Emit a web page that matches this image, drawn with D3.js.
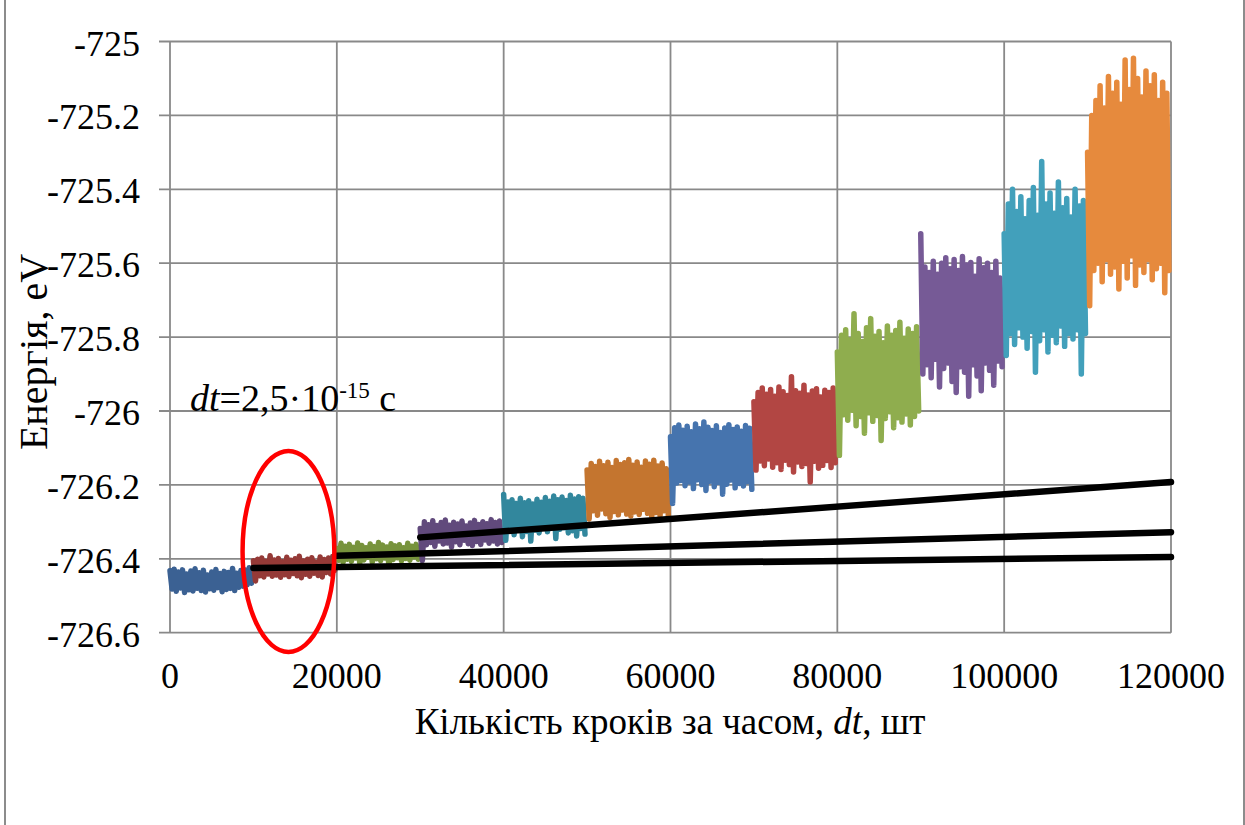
<!DOCTYPE html>
<html>
<head>
<meta charset="utf-8">
<script src="https://cdn.jsdelivr.net/npm/d3@7"></script>
<style>
  body { margin: 0; background: #fff; }
  text { font-family: "Times New Roman", "Liberation Serif", serif; fill: #000; }
</style>
</head>
<body>
<script>
// axis ticks
var xTicks = [0, 20000, 40000, 60000, 80000, 100000, 120000]
var yTicks = [-725, -725.2, -725.4, -725.6, -725.8, -726, -726.2, -726.4, -726.6]

// each run of 10000 steps, read as upper / lower swings
var segStarts = [0, 10000, 20000, 30000, 40000, 50000, 60000, 70000, 80000, 90000, 100000, 110000]

var segHigh = [
  [-726.432,-726.428,-726.436,-726.430,-726.441,-726.433,-726.427,-726.438,-726.431,-726.444,-726.436,-726.429,-726.440,-726.434,-726.437,-726.426,-726.439,-726.432,-726.430,-726.424],
  [-726.405,-726.401,-726.398,-726.407,-726.392,-726.403,-726.399,-726.408,-726.396,-726.404,-726.400,-726.393,-726.406,-726.401,-726.397,-726.409,-726.395,-726.402,-726.398,-726.394],
  [-726.372,-726.358,-726.366,-726.361,-726.369,-726.357,-726.364,-726.370,-726.360,-726.367,-726.356,-726.363,-726.368,-726.359,-726.365,-726.362,-726.370,-726.358,-726.366,-726.361],
  [-726.318,-726.300,-726.308,-726.297,-726.310,-726.302,-726.295,-726.309,-726.301,-726.306,-726.298,-726.311,-726.303,-726.296,-726.307,-726.300,-726.305,-726.294,-726.302,-726.298],
  [-726.226,-726.246,-726.240,-726.250,-726.236,-726.248,-726.243,-726.252,-726.239,-726.247,-726.234,-726.244,-726.230,-726.240,-726.233,-726.242,-726.228,-726.238,-726.232,-726.236],
  [-726.160,-726.142,-726.150,-726.136,-726.148,-726.139,-726.153,-726.134,-726.145,-726.140,-726.131,-726.147,-726.138,-726.152,-726.135,-726.144,-726.133,-726.149,-726.141,-726.156],
  [-726.070,-726.045,-726.038,-726.052,-726.041,-726.056,-726.035,-726.048,-726.030,-726.044,-726.053,-726.040,-726.058,-726.046,-726.037,-726.050,-726.043,-726.055,-726.039,-726.047],
  [-725.975,-725.950,-725.938,-725.955,-725.942,-725.960,-725.935,-725.948,-725.958,-725.907,-725.945,-725.952,-725.930,-725.957,-725.946,-725.940,-725.962,-725.944,-725.950,-725.938],
  [-725.840,-725.795,-725.780,-725.808,-725.737,-725.790,-725.812,-725.775,-725.750,-725.798,-725.785,-725.815,-725.770,-725.795,-725.782,-725.760,-725.803,-725.778,-725.790,-725.772],
  [-725.520,-725.610,-725.625,-725.595,-725.630,-725.600,-725.585,-725.615,-725.590,-725.620,-725.582,-725.605,-725.598,-725.635,-725.588,-725.612,-725.600,-725.625,-725.595,-725.640],
  [-725.520,-725.440,-725.400,-725.460,-725.420,-725.480,-725.430,-725.395,-725.470,-725.325,-725.440,-725.410,-725.465,-725.380,-725.450,-725.425,-725.475,-725.400,-725.445,-725.430],
  [-725.300,-725.200,-725.160,-725.120,-725.180,-725.095,-725.140,-725.110,-725.170,-725.050,-725.130,-725.045,-725.100,-725.150,-725.080,-725.120,-725.090,-725.160,-725.110,-725.140]
]

var segLow = [
  [-726.482,-726.488,-726.479,-726.491,-726.484,-726.487,-726.480,-726.486,-726.490,-726.481,-726.485,-726.478,-726.489,-726.483,-726.480,-726.486,-726.477,-726.474,-726.470,-726.466],
  [-726.460,-726.446,-726.449,-726.441,-726.447,-726.444,-726.450,-726.443,-726.448,-726.440,-726.446,-726.451,-726.442,-726.447,-726.439,-726.445,-726.449,-726.437,-726.441,-726.431],
  [-726.404,-726.410,-726.401,-726.407,-726.398,-726.412,-726.403,-726.396,-726.409,-726.400,-726.405,-726.398,-726.418,-726.402,-726.397,-726.406,-726.399,-726.404,-726.395,-726.401],
  [-726.405,-726.362,-726.356,-726.366,-726.352,-726.360,-726.357,-726.368,-726.354,-726.362,-726.350,-726.359,-726.364,-726.353,-726.361,-726.349,-726.358,-726.352,-726.360,-726.356],
  [-726.350,-726.321,-726.335,-726.318,-726.340,-726.326,-726.352,-726.322,-726.330,-726.317,-726.327,-726.312,-726.345,-726.320,-726.316,-726.330,-726.324,-726.338,-726.318,-726.333],
  [-726.292,-726.270,-726.282,-726.265,-726.278,-726.288,-726.272,-726.281,-726.268,-726.279,-726.284,-726.273,-726.280,-726.266,-726.277,-726.286,-726.275,-726.283,-726.270,-726.290],
  [-726.250,-726.195,-726.188,-726.202,-726.192,-726.210,-726.186,-726.199,-726.215,-726.190,-726.205,-726.193,-726.225,-726.198,-726.187,-726.208,-726.196,-726.203,-726.191,-726.212],
  [-726.160,-726.135,-726.148,-726.130,-726.152,-726.140,-726.158,-726.133,-726.145,-726.165,-726.138,-726.150,-726.142,-726.192,-726.136,-726.155,-726.147,-726.134,-726.153,-726.140],
  [-726.120,-726.010,-726.025,-725.998,-726.040,-726.015,-726.060,-726.005,-726.028,-726.012,-726.080,-726.020,-726.002,-726.045,-726.018,-726.030,-726.008,-726.038,-726.015,-726.000],
  [-725.900,-725.875,-725.910,-725.860,-725.935,-725.885,-725.870,-725.920,-725.950,-725.880,-725.895,-725.960,-725.875,-725.905,-725.945,-725.870,-725.890,-725.930,-725.865,-725.880],
  [-725.850,-725.790,-725.820,-725.775,-725.800,-725.830,-725.785,-725.895,-725.810,-725.780,-725.840,-725.795,-725.815,-725.770,-725.825,-725.790,-725.805,-725.780,-725.900,-725.790],
  [-725.715,-725.620,-725.600,-725.650,-725.590,-725.630,-725.610,-725.670,-725.595,-725.640,-725.580,-725.660,-725.605,-725.625,-725.590,-725.645,-725.615,-725.600,-725.680,-725.620]
]

// black trend lines
var trendStart = [10000, 20000, 30000]
var trendStartVal = [-726.425, -726.392, -726.342]
var trendEnd = 120000
var trendEndVal = [-726.395, -726.328, -726.192]

// red ellipse (centre and half sizes in data units)
var ringX = 14200, ringY = -726.38, ringRx = 5500, ringRy = 0.272

var palette = ["#3b6193", "#953a37", "#77933c", "#614a7c", "#32879d", "#c4752f",
               "#4674ae", "#b24643", "#8fad4e", "#765a96", "#42a0bb", "#e68a3d"]

var W = 1245, H = 825
var margin = {left: 170, right: 74, top: 41.5, bottom: 192.3}

var svg = d3.select("body").append("svg").attr("width", W).attr("height", H)

// outer frame
svg.append("rect")
  .attr("x", 5).attr("y", -10).attr("width", 1239).attr("height", H + 20)
  .attr("fill", "none").attr("stroke", "#8c8c8c").attr("stroke-width", 2)

var x = d3.scaleLinear().domain([0, 120000]).range([margin.left, W - margin.right])
var y = d3.scaleLinear().domain([-726.6, -725]).range([H - margin.bottom, margin.top])

// grid
svg.append("g").selectAll("line").data(xTicks).join("line")
  .attr("x1", function(d) { return x(d) }).attr("x2", function(d) { return x(d) })
  .attr("y1", y(-725)).attr("y2", y(-726.6))
  .attr("stroke", "#898989").attr("stroke-width", 1.8)

svg.append("g").selectAll("line").data(yTicks).join("line")
  .attr("x1", x(0) - 11).attr("x2", x(120000))
  .attr("y1", function(d) { return y(d) }).attr("y2", function(d) { return y(d) })
  .attr("stroke", "#898989").attr("stroke-width", 1.8)

// noisy runs
var lineFunc = d3.line()
  .x(function(d) { return x(d[0]) })
  .y(function(d) { return y(d[1]) })

segStarts.forEach(function(s, k) {
  var pts = []
  segHigh[k].forEach(function(h, i) {
    pts.push([s + i * 500, h])
    pts.push([s + i * 500 + 250, segLow[k][i]])
  })
  svg.append("path")
    .attr("d", lineFunc(pts))
    .attr("fill", "none")
    .attr("stroke", palette[k])
    .attr("stroke-width", 5.5)
    .attr("stroke-linejoin", "round")
    .attr("stroke-linecap", "round")
})

// trend lines
trendStart.forEach(function(s, i) {
  svg.append("path")
    .attr("d", lineFunc([[s, trendStartVal[i]], [trendEnd, trendEndVal[i]]]))
    .attr("stroke", "#000").attr("stroke-width", 6.5).attr("stroke-linecap", "round")
})

// ellipse
svg.append("ellipse")
  .attr("cx", x(ringX)).attr("cy", y(ringY))
  .attr("rx", x(ringRx) - x(0)).attr("ry", y(-726.6) - y(-726.6 + ringRy))
  .attr("fill", "none").attr("stroke", "#ff0000").attr("stroke-width", 4.5)

// tick labels
svg.append("g").selectAll("text").data(yTicks).join("text")
  .attr("x", 140).attr("y", function(d) { return y(d) + 14 })
  .attr("text-anchor", "end").attr("font-size", 36)
  .text(function(d) { return d })

svg.append("g").selectAll("text").data(xTicks).join("text")
  .attr("x", function(d) { return x(d) }).attr("y", 688)
  .attr("text-anchor", "middle").attr("font-size", 36)
  .text(function(d) { return d })

// axis titles
var xt = svg.append("text").attr("x", 670).attr("y", 734)
  .attr("text-anchor", "middle").attr("font-size", 37)
xt.append("tspan").text("Кількість кроків за часом, ")
xt.append("tspan").attr("font-style", "italic").text("dt")
xt.append("tspan").text(", шт")

svg.append("text")
  .attr("transform", "translate(47," + 352 + ") rotate(-90)")
  .attr("text-anchor", "middle").attr("font-size", 40)
  .text("Енергія, eV")

// dt note
var note = svg.append("text").attr("x", 190).attr("y", 411).attr("font-size", 38)
note.append("tspan").attr("font-style", "italic").text("dt")
note.append("tspan").text("=2,5·10")
note.append("tspan").attr("font-size", 23).attr("dy", -13).text("-15")
note.append("tspan").attr("dy", 13).text(" с")
</script>
</body>
</html>
